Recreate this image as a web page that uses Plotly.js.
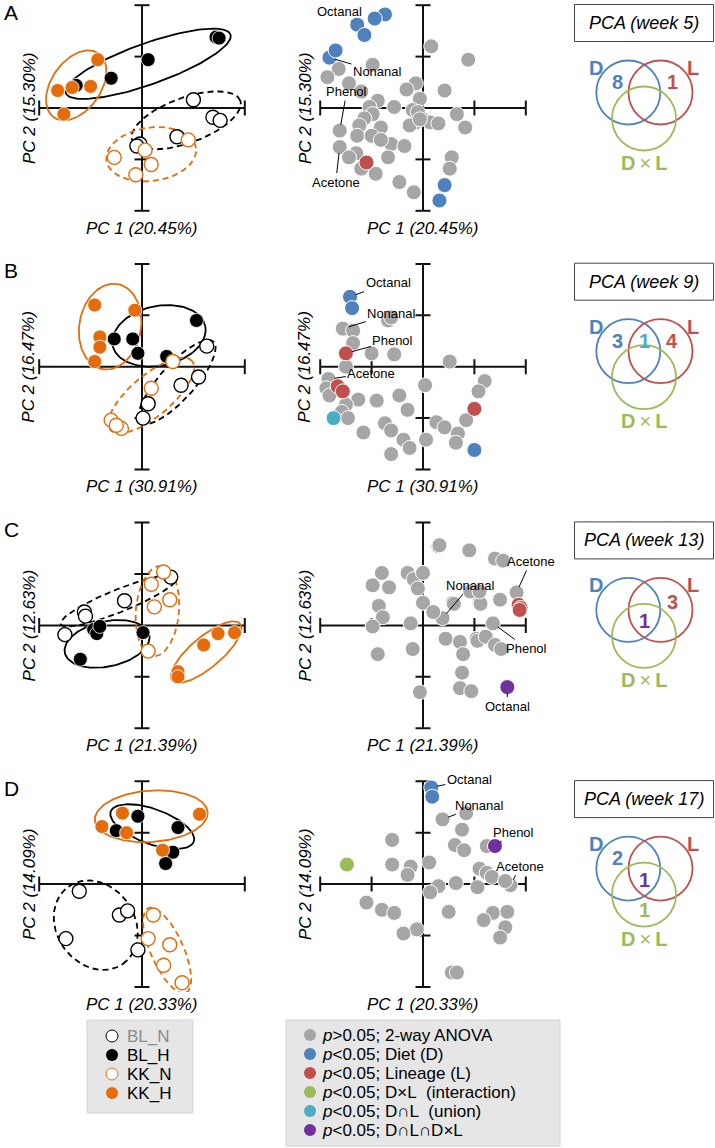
<!DOCTYPE html>
<html><head><meta charset="utf-8">
<script src="https://cdn.plot.ly/plotly-3.0.1.min.js"></script>
<style>html,body{margin:0;padding:0;background:#fff}#chart{width:715px;height:1148px}</style>
</head><body><div id="chart"></div>
<script>
// ================= DATA =================
const panelLetters = ['A','B','C','D'];
const weekNames = ['week 5','week 9','week 13','week 17'];
const pc1Labels = ['PC 1 (20.45%)','PC 1 (30.91%)','PC 1 (21.39%)','PC 1 (20.33%)'];
const pc2Labels = ['PC 2 (15.30%)','PC 2 (16.47%)','PC 2 (12.63%)','PC 2 (14.09%)'];
const groupNames = ['BL_N','BL_H','KK_N','KK_H'];
const sigLabels = ['<i>p</i>&gt;0.05; 2-way ANOVA','<i>p</i>&lt;0.05; Diet (D)','<i>p</i>&lt;0.05; Lineage (L)',
  '<i>p</i>&lt;0.05; D×L&nbsp; (interaction)','<i>p</i>&lt;0.05; D∩L&nbsp; (union)','<i>p</i>&lt;0.05; D∩L∩D×L'];
const labelNames = ['Octanal','Nonanal','Phenol','Acetone'];

// ---- PCA scores [PC1, PC2] per group ----
const A_BL_N = [[0.50,0.08],[0.69,-0.09],[0.76,-0.12],[0.34,-0.28],[-0.02,-0.35],[-0.05,-0.37]];
const A_BL_H = [[0.72,0.69],[0.75,0.68],[0.06,0.47],[-0.30,0.29],[-0.64,0.22]];
const A_KK_N = [[0.45,-0.31],[0.03,-0.41],[-0.27,-0.48],[0.09,-0.55],[-0.06,-0.65]];
const A_KK_H = [[-0.43,0.47],[-0.82,0.17],[-0.68,0.20],[-0.50,0.21],[-0.76,-0.06]];
const B_BL_N = [[0.63,0.20],[0.55,-0.10],[0.38,-0.18],[0.06,-0.36],[0.01,-0.50]];
const B_BL_H = [[0.53,0.45],[-0.27,0.27],[-0.09,0.27],[-0.04,0.13],[0.24,0.10]];
const B_KK_N = [[0.30,0.05],[0.09,-0.21],[-0.30,-0.52],[-0.20,-0.60],[-0.25,-0.57]];
const B_KK_H = [[-0.46,0.60],[-0.07,0.55],[-0.41,0.29],[-0.41,0.19],[-0.46,0.05]];
const C_BL_N = [[0.28,0.47],[-0.17,0.24],[-0.56,0.13],[-0.55,0.09],[-0.75,-0.09]];
const C_BL_H = [[-0.47,-0.04],[-0.44,-0.08],[-0.41,-0.01],[0.01,-0.07],[-0.60,-0.33]];
const C_KK_N = [[0.21,0.52],[0.09,0.40],[0.27,0.25],[0.12,0.18],[0.06,-0.25]];
const C_KK_H = [[0.74,-0.08],[0.90,-0.07],[0.60,-0.19],[0.35,-0.45],[0.35,-0.50]];
const D_BL_N = [[-0.61,-0.07],[-0.22,-0.30],[-0.14,-0.26],[-0.74,-0.53],[-0.04,-0.64]];
const D_BL_H = [[-0.04,0.66],[0.35,0.55],[-0.25,0.52],[0.30,0.31],[0.23,0.20]];
const D_KK_N = [[0.11,-0.30],[0.06,-0.53],[0.27,-0.59],[0.21,-0.79],[0.39,-0.96]];
const D_KK_H = [[-0.19,0.69],[0.56,0.68],[-0.39,0.56],[-0.15,0.50],[0.20,0.33]];

// ---- confidence ellipses [cx, cy, semi-major, semi-minor, angle deg] ----
const A_ELL = [[0.43,-0.12,0.56,0.22,20],[0.06,0.43,0.85,0.20,19.6],[0.09,-0.45,0.44,0.26,8],[-0.64,0.22,0.38,0.24,55]];
const B_ELL = [[0.34,-0.15,0.53,0.17,48],[0.165,0.30,0.46,0.29,12],[0.09,-0.28,0.52,0.20,40],[-0.31,0.39,0.42,0.30,80]];
const C_ELL = [[-0.225,0.24,0.61,0.11,22],[-0.34,-0.18,0.42,0.22,12],[0.15,0.14,0.44,0.21,85],[0.625,-0.26,0.43,0.15,40]];
const D_ELL = [[-0.45,-0.40,0.46,0.38,-55],[0.10,0.56,0.43,0.17,-20],[0.245,-0.645,0.45,0.16,-66],[0.09,0.66,0.55,0.25,4]];

// ---- loadings [PC1, PC2, significance class]; first four = Octanal, Nonanal, Phenol, Acetone ----
// class: 0 n.s., 1 Diet, 2 Lineage, 3 DxL, 4 D∩L, 5 D∩L∩DxL
const A_LOAD = [[-0.64,0.81,1],[-0.91,0.49,1],[-0.81,-0.22,0],[-0.81,-0.38,0],
 [-0.37,0.91,1],[-0.47,0.87,1],[-0.57,0.71,1],[-0.85,0.56,1],[0.21,-0.75,1],[0.16,-0.90,1],[-0.55,-0.53,2],
 [0.08,0.60,0],[0.44,0.47,0],[-0.49,0.42,0],[-0.82,0.38,0],[-0.93,0.30,0],[-0.72,0.24,0],[-0.07,0.24,0],[-0.16,0.18,0],
 [0.21,0.17,0],[-0.60,0.16,0],[-0.44,0.07,0],[-0.03,0.09,0],[-0.52,0.01,0],[-0.28,0.01,0],[-0.10,-0.02,0],[0.33,-0.06,0],
 [-0.49,-0.06,0],[-0.02,-0.09,0],[-0.07,-0.14,0],[-0.13,-0.17,0],[0.07,-0.14,0],[-0.57,-0.10,0],[-0.62,-0.17,0],[0.41,-0.19,0],
 [0.15,-0.15,0],[-0.41,-0.19,0],[-0.64,-0.27,0],[-0.50,-0.27,0],[-0.31,-0.35,0],[-0.41,-0.31,0],[-0.18,-0.37,0],[-0.65,-0.44,0],
 [-0.72,-0.48,0],[-0.34,-0.48,0],[-0.60,-0.59,0],[-0.46,-0.64,0],[0.28,-0.48,0],[0.26,-0.59,0],[-0.23,-0.72,0],[-0.09,-0.82,0],
 [-0.05,-0.04,0],[-0.03,-0.11,0]];
const B_LOAD = [[-0.71,0.68,1],[-0.78,0.37,0],[-0.75,0.13,2],[-0.92,-0.12,0],
 [-0.69,0.57,1],[0.50,-0.81,1],[-0.83,-0.19,2],[-0.78,-0.24,2],[0.50,-0.41,2],[-0.87,-0.50,4],
 [-0.34,0.45,0],[-0.31,0.48,0],[-0.68,0.35,0],[-0.68,0.23,0],[-0.50,0.13,0],[-0.28,0.12,0],[0.26,0.05,0],[-0.75,0.00,0],
 [0.60,-0.14,0],[0.54,-0.24,0],[0.02,-0.18,0],[-0.94,-0.21,0],[-0.91,-0.28,0],[-0.63,-0.32,0],[-0.45,-0.33,0],[-0.23,-0.28,0],
 [-0.75,-0.37,0],[-0.15,-0.42,0],[-0.79,-0.44,0],[-0.73,-0.50,0],[-0.37,-0.55,0],[-0.31,-0.62,0],[0.13,-0.54,0],[0.21,-0.59,0],
 [0.42,-0.52,0],[-0.58,-0.64,0],[-0.19,-0.71,0],[-0.13,-0.79,0],[0.03,-0.71,0],[0.34,-0.65,0],[0.32,-0.74,0],[-0.31,-0.85,0]];
const C_LOAD = [[0.82,-0.60,5],[0.19,0.07,0],[0.68,0.02,0],[0.91,0.32,0],
 [0.93,0.20,2],[0.95,0.17,2],[0.94,0.15,2],
 [0.15,0.77,0],[0.16,0.78,0],[0.45,0.73,0],[0.70,0.65,0],[-0.40,0.51,0],[-0.49,0.39,0],[-0.33,0.37,0],[-0.15,0.51,0],
 [-0.09,0.45,0],[0.00,0.51,0],[-0.05,0.36,0],[0.00,0.22,0],[-0.43,0.19,0],[-0.39,0.08,0],[0.10,0.13,0],[0.29,0.22,0],
 [0.30,0.21,0],[0.55,0.22,0],[0.56,0.21,0],[0.46,0.33,0],[0.55,0.33,0],[-0.49,-0.01,0],[-0.12,0.02,0],[0.22,-0.13,0],
 [0.36,-0.16,0],[0.52,-0.13,0],[0.53,-0.15,0],[0.61,-0.11,0],[0.70,-0.19,0],[-0.10,-0.23,0],[-0.44,-0.28,0],[0.39,-0.28,0],
 [0.38,-0.46,0],[0.36,-0.61,0],[0.47,-0.64,0],[-0.03,-0.65,0],[0.78,0.63,0],[0.75,0.25,0],[0.76,-0.23,0]];
const D_LOAD = [[0.08,0.94,1],[0.19,0.63,0],[0.70,0.37,5],[0.85,-0.01,0],
 [0.09,0.85,1],[-0.74,0.19,3],
 [0.42,0.69,0],[0.38,0.53,0],[-0.30,0.43,0],[0.31,0.38,0],[0.40,0.33,0],[0.62,0.37,0],[-0.30,0.19,0],[-0.12,0.17,0],
 [-0.15,0.09,0],[0.06,0.21,0],[0.55,0.15,0],[0.62,0.11,0],[0.67,0.07,0],[0.32,0.01,0],[0.15,-0.02,0],[0.07,-0.08,0],
 [0.53,-0.03,0],[-0.55,-0.18,0],[-0.40,-0.25,0],[-0.28,-0.28,0],[0.25,-0.27,0],[0.68,-0.28,0],[0.59,-0.35,0],[-0.06,-0.44,0],
 [-0.19,-0.48,0],[0.28,-0.86,0],[0.33,-0.86,0],[0.80,0.03,0],[0.82,-0.27,0],[0.80,-0.42,0],[0.75,-0.52,0]];

// ---- Venn counts per week ----
const vennDonly   = [8,3,0,2];
const vennLonly   = [1,4,3,0];
const vennDL      = [0,1,0,0];
const vennAll     = [0,0,1,1];
const vennDxLonly = [0,0,0,1];

// ================= STYLE / LAYOUT =================
const W=715, H=1148, UNIT=102.8, HALF=1.05, CAP=0.073;
const FONT='Liberation Sans, Arial, Helvetica, sans-serif';
const rowCY=[108,366.7,625.4,884.1];
const colCX=[142,423];
const groupColors=['#000000','#000000','#e46c0a','#e46c0a'];
const groupFilled=[false,true,false,true];
const sigColors=['#a6a6a6','#4f81bd','#c0504d','#9bbb59','#4bacc6','#7030a0'];
const vennBlue='#4f81bd', vennRed='#c0504d', vennGreen='#9bbb59';
const labelOffsets=[
 [[-18,-13],[48,14],[7,-39],[-4,35]],
 [[38,-14],[49,-15],[47,-13],[43,-6]],
 [[0,19],[28,-33],[34,25],[14,-31]],
 [[38,-8],[37,-14],[19,-14],[10,-19]]];

const scores=[[A_BL_N,A_BL_H,A_KK_N,A_KK_H],[B_BL_N,B_BL_H,B_KK_N,B_KK_H],[C_BL_N,C_BL_H,C_KK_N,C_KK_H],[D_BL_N,D_BL_H,D_KK_N,D_KK_H]];
const ellipses=[A_ELL,B_ELL,C_ELL,D_ELL];
const loadings=[A_LOAD,B_LOAD,C_LOAD,D_LOAD];

const px2x=p=>p/W, px2y=p=>1-p/H;
const traces=[];
const layout={width:W,height:H,margin:{l:0,r:0,t:0,b:0,pad:0},paper_bgcolor:'#ffffff',plot_bgcolor:'rgba(0,0,0,0)',
  showlegend:false,font:{family:FONT,color:'#000'},shapes:[],annotations:[],hovermode:false};

function txt(text,x,y,opts){
  layout.annotations.push(Object.assign({text:text,x:px2x(x),y:px2y(y),xref:'paper',yref:'paper',showarrow:false,
    xanchor:'center',yanchor:'middle',font:{family:FONT,size:13,color:'#000'}},opts||{}));
}
function ellipsePath(p){
  const cx=p[0],cy=p[1],a=p[2],b=p[3],th=p[4]*Math.PI/180;const xs=[],ys=[];
  for(let i=0;i<=144;i++){const u=2*Math.PI*i/144;const ex=a*Math.cos(u),ey=b*Math.sin(u);
    xs.push(cx+ex*Math.cos(th)-ey*Math.sin(th));ys.push(cy+ex*Math.sin(th)+ey*Math.cos(th));}
  return [xs,ys];
}
function crossHair(xa,ya,withXTicks){
  const L={color:'#111111',width:2};
  const add=(x0,y0,x1,y1)=>layout.shapes.push({type:'line',xref:xa,yref:ya,x0:x0,y0:y0,x1:x1,y1:y1,line:L,layer:'below'});
  add(-1,0,1,0); add(0,-1,0,1);
  [-1,1].forEach(v=>{add(v,-CAP,v,CAP);add(-CAP,v,CAP,v);});
  [-0.5,0.5].forEach(v=>add(-CAP,v,CAP,v));
  if(withXTicks)[-0.5,0.5].forEach(v=>add(v,-CAP,v,CAP));
}

for(let r=0;r<4;r++){
  for(let c=0;c<2;c++){
    const k=r*2+c+1, suf=(k===1?'':String(k));
    const xa='x'+suf, ya='y'+suf;
    layout['xaxis'+suf]={domain:[px2x(colCX[c]-UNIT*HALF),px2x(colCX[c]+UNIT*HALF)],range:[-HALF,HALF],visible:false,anchor:ya,fixedrange:true};
    layout['yaxis'+suf]={domain:[Math.max(0,px2y(rowCY[r]+UNIT*HALF)),Math.min(1,px2y(rowCY[r]-UNIT*HALF))],range:[-HALF,HALF],visible:false,anchor:xa,fixedrange:true};
    crossHair(xa,ya,c===1);
    // axis titles
    txt('<i>'+pc1Labels[r]+'</i>',colCX[c],rowCY[r]+120,{font:{family:FONT,size:17,color:'#000'}});
    txt('<i>'+pc2Labels[r]+'</i>',c===0?29:305,rowCY[r],{textangle:-90,font:{family:FONT,size:17,color:'#000'}});
    if(c===0){
      ellipses[r].forEach((e,g)=>{const p=ellipsePath(e);
        traces.push({type:'scatter',mode:'lines',x:p[0],y:p[1],xaxis:xa,yaxis:ya,hoverinfo:'skip',
          line:{color:groupColors[g],width:1.8,dash:groupFilled[g]?'solid':'6px,4px'}});});
      scores[r].forEach((pts,g)=>{
        traces.push({type:'scatter',mode:'markers',x:pts.map(p=>p[0]),y:pts.map(p=>p[1]),xaxis:xa,yaxis:ya,cliponaxis:false,hoverinfo:'skip',
          marker:{size:14,color:groupFilled[g]?groupColors[g]:'#ffffff',line:{color:groupFilled[g]?'#ffffff':groupColors[g],width:groupFilled[g]?0.8:1.4}}});
      });
    } else {
      const ld=loadings[r];
      sigColors.forEach((col,s)=>{const pts=ld.filter(p=>p[2]===s); if(!pts.length)return;
        traces.push({type:'scatter',mode:'markers',x:pts.map(p=>p[0]),y:pts.map(p=>p[1]),xaxis:xa,yaxis:ya,cliponaxis:false,hoverinfo:'skip',
          marker:{size:15,color:col,line:{color:'#ffffff',width:1}}});});
      labelNames.forEach((nm,i)=>{
        layout.annotations.push({text:nm,x:ld[i][0],y:ld[i][1],xref:xa,yref:ya,showarrow:true,arrowhead:0,arrowwidth:1,
          arrowcolor:'#000',standoff:6,ax:labelOffsets[r][i][0],ay:labelOffsets[r][i][1],font:{family:FONT,size:13,color:'#000'}});
      });
    }
  }
  // panel letter
  txt(panelLetters[r],11,rowCY[r]-96,{font:{family:FONT,size:21,color:'#000'}});
  // PCA box
  const by=23+258.7*r;
  layout.shapes.push({type:'rect',xref:'paper',yref:'paper',x0:px2x(574.5),x1:px2x(713.5),y0:px2y(by+18.5),y1:px2y(by-18.5),line:{color:'#444',width:1}});
  txt('<i>PCA ('+weekNames[r]+')</i>',644,by,{font:{family:FONT,size:18,color:'#000'}});
  // Venn
  const circ=(cx,cy,col)=>layout.shapes.push({type:'circle',xref:'paper',yref:'paper',x0:px2x(cx-32),x1:px2x(cx+32),y0:px2y(cy+32),y1:px2y(cy-32),line:{color:col,width:1.8}});
  circ(628.3,by+69.5,vennBlue); circ(660.5,by+69.5,vennRed); circ(644,by+95.5,vennGreen);
  const bold=(t,x,y,col,sz)=>txt('<b>'+t+'</b>',x,y,{font:{family:FONT,size:sz||20,color:col}});
  bold('D',596,by+45,vennBlue); bold('L',693,by+45,vennRed);
  txt('<b>D</b>\u2009×\u2009<b>L</b>',644,by+139.5,{font:{family:FONT,size:20,color:vennGreen}});
  if(vennDonly[r]) bold(String(vennDonly[r]),617,by+59,vennBlue);
  if(vennLonly[r]) bold(String(vennLonly[r]),672,by+(r===2?62:59),vennRed);
  if(vennDL[r]) bold(String(vennDL[r]),644.5,by+59,sigColors[4]);
  if(vennAll[r]) bold(String(vennAll[r]),644.5,by+81,sigColors[5]);
  if(vennDxLonly[r]) bold(String(vennDxLonly[r]),644.5,by+111,vennGreen);
}

// ---- legends (drawn as boxes with symbols and text) ----
const LSTEP=19;
layout.shapes.push({type:'rect',xref:'paper',yref:'paper',x0:px2x(87),x1:px2x(193),y0:px2y(1113),y1:px2y(1020),fillcolor:'#e6e6e6',line:{color:'#d2d2d2',width:1},layer:'below'});
groupNames.forEach((g,i)=>{const yy=1036+LSTEP*i;
  layout.shapes.push({type:'circle',xref:'paper',yref:'paper',xsizemode:'pixel',ysizemode:'pixel',xanchor:px2x(112),yanchor:px2y(yy),
    x0:-6,x1:6,y0:-6,y1:6,fillcolor:groupFilled[i]?groupColors[i]:'#ffffff',line:{color:groupColors[i],width:groupFilled[i]?0:1}});
  txt(g,126,yy,{xanchor:'left',borderpad:0,font:{family:FONT,size:17,color:i===0?'#8c8c8c':'#000'}});
});
layout.shapes.push({type:'rect',xref:'paper',yref:'paper',x0:px2x(286),x1:px2x(560),y0:px2y(1146),y1:px2y(1020),fillcolor:'#e6e6e6',line:{color:'#d2d2d2',width:1},layer:'below'});
sigLabels.forEach((s,i)=>{const yy=1035+LSTEP*i;
  layout.shapes.push({type:'circle',xref:'paper',yref:'paper',xsizemode:'pixel',ysizemode:'pixel',xanchor:px2x(310),yanchor:px2y(yy),
    x0:-6,x1:6,y0:-6,y1:6,fillcolor:sigColors[i],line:{width:0}});
  txt(s,321,yy,{xanchor:'left',borderpad:0,font:{family:FONT,size:17,color:'#000'}});
});

Plotly.newPlot('chart',traces,layout,{staticPlot:true,displayModeBar:false});
</script>
</body></html>
